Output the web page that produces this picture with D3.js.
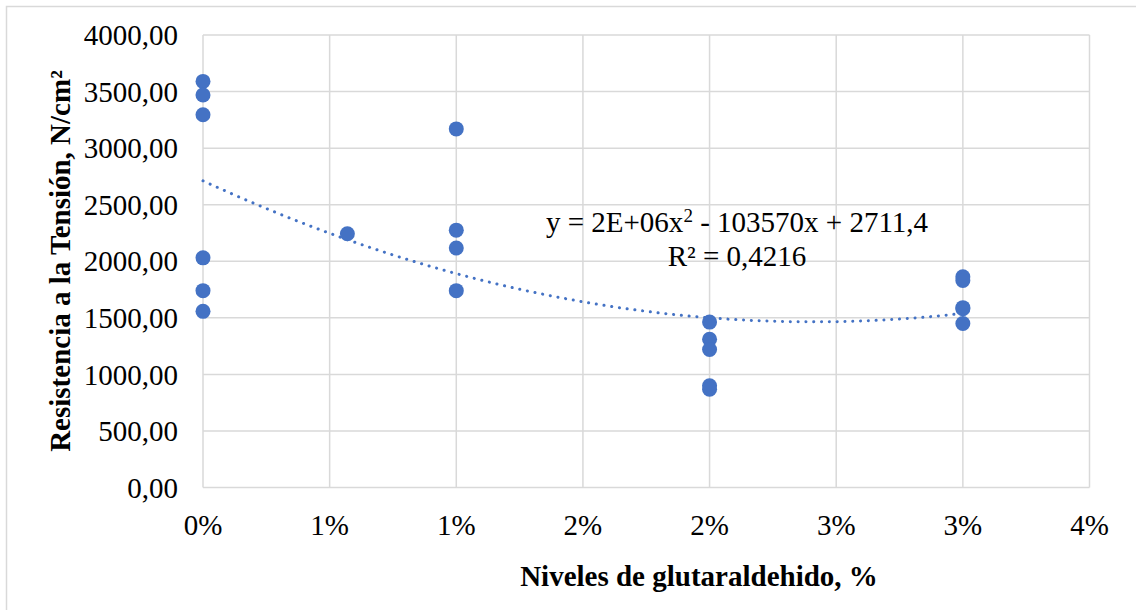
<!DOCTYPE html>
<html><head><meta charset="utf-8">
<script src="https://cdn.jsdelivr.net/npm/d3@7"></script>
<style>
body{margin:0;background:#fff;}
</style></head>
<body><svg id="c" width="1136" height="610"></svg>
<script>
const xValues = [0,0,0,0,0,0, 0.0057, 0.01,0.01,0.01,0.01, 0.02,0.02,0.02,0.02,0.02, 0.03,0.03,0.03,0.03,0.03];
const yValues = [3590,3470,3295,2030,1740,1557, 2243, 3170,2275,2117,1740, 1462,1310,1220,900,868, 1862,1830,1590,1580,1450];
const xTicks = [0,0.005,0.01,0.015,0.02,0.025,0.03,0.035];
const xTickLabels = ["0%","1%","1%","2%","2%","3%","3%","4%"];
const yTicks = [0,500,1000,1500,2000,2500,3000,3500,4000];
const yTickLabels = ["0,00","500,00","1000,00","1500,00","2000,00","2500,00","3000,00","3500,00","4000,00"];
const trendCoef = [2.15e6, -103570, 2711.4]; // a, b, c
const trendText = ["y = 2E+06x", "2", " - 103570x + 2711,4"];
const r2Text = "R² = 0,4216";
const xTitle = "Niveles de glutaraldehido, %";
const yTitle = "Resistencia a la Tensión, N/cm²";

const FONT = "'Liberation Serif', 'Times New Roman', Tinos, serif";
const svg = d3.select("#c").attr("font-family", FONT);
const L=203, R=1089.5, T=35, B=487.5;
const x = d3.scaleLinear().domain([0,0.035]).range([L,R]);
const y = d3.scaleLinear().domain([0,4000]).range([B,T]);

svg.append("rect").attr("x",6.5).attr("y",6.5).attr("width",1140).attr("height",620)
  .attr("fill","none").attr("stroke","#d9d9d9").attr("stroke-width",1.5);

const g = svg.append("g");
g.selectAll(".gy").data(yTicks).enter().append("line")
  .attr("x1",L).attr("x2",R).attr("y1",d=>y(d)).attr("y2",d=>y(d))
  .attr("stroke","#d9d9d9").attr("stroke-width",1.5);
g.selectAll(".gx").data(xTicks).enter().append("line")
  .attr("y1",T).attr("y2",B).attr("x1",d=>x(d)).attr("x2",d=>x(d))
  .attr("stroke","#d9d9d9").attr("stroke-width",1.5);

function txt(sel){ return sel.attr("font-family",FONT).attr("fill","#000"); }

// tick labels
txt(svg.selectAll(".yl").data(yTicks).enter().append("text"))
  .attr("x",178).attr("y",d=>y(d)).attr("dy","0.35em").attr("text-anchor","end")
  .attr("font-size",29).text((d,i)=>yTickLabels[i]);
txt(svg.selectAll(".xl").data(xTicks).enter().append("text"))
  .attr("x",d=>x(d)).attr("y",535).attr("text-anchor","middle")
  .attr("font-size",29).text((d,i)=>xTickLabels[i]);

// trend
const tx = d3.range(0, 0.0300001, 0.0003);
const line = d3.line().x(d=>x(d)).y(d=>y(trendCoef[0]*d*d+trendCoef[1]*d+trendCoef[2]));
svg.append("path").attr("d",line(tx)).attr("fill","none").attr("stroke","#4472c4")
  .attr("stroke-width",3).attr("stroke-linecap","round").attr("stroke-dasharray","0.1 7.7");

// points
const pts = xValues.map((v,i)=>[v,yValues[i]]);
svg.selectAll(".pt").data(pts).enter().append("circle")
  .attr("cx",d=>x(d[0])).attr("cy",d=>y(d[1])).attr("r",7.5).attr("fill","#4472c4");

// equation
const eq = txt(svg.append("text")).attr("x",737).attr("y",232).attr("text-anchor","middle").attr("font-size",29);
eq.append("tspan").text(trendText[0]);
eq.append("tspan").attr("dy",-10).attr("font-size",19).text(trendText[1]);
eq.append("tspan").attr("dy",10).text(trendText[2]);
txt(svg.append("text")).attr("x",737).attr("y",266).attr("text-anchor","middle").attr("font-size",29).text(r2Text);

// titles
txt(svg.append("text")).attr("x",699).attr("y",586).attr("text-anchor","middle")
  .attr("font-size",29).attr("font-weight","bold").text(xTitle);
txt(svg.append("text")).attr("transform","translate(70,261) rotate(-90)").attr("text-anchor","middle")
  .attr("font-size",29).attr("font-weight","bold").text(yTitle);
</script></body></html>
